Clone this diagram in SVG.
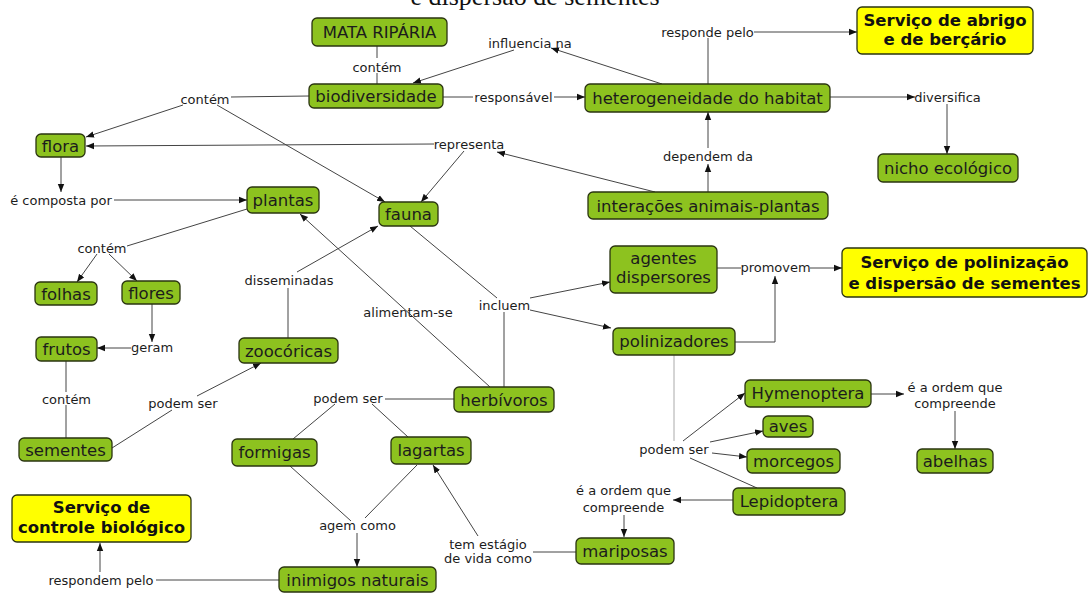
<svg xmlns="http://www.w3.org/2000/svg" width="1088" height="593" viewBox="0 0 1088 593">
<style>
.n rect{fill:#8dc21f;stroke:#2a3410;stroke-width:1.3}
.y rect{fill:#ffff00;stroke:#2a3410;stroke-width:1.3}
.n text{font-family:"DejaVu Sans",Verdana,sans-serif;font-size:16.5px;fill:#1c1c1c;text-anchor:middle}
.y text{font-family:"DejaVu Sans",Verdana,sans-serif;font-size:16.5px;font-weight:bold;fill:#111;text-anchor:middle}
.l text{font-family:"DejaVu Sans",Verdana,sans-serif;font-size:13px;fill:#1c1c1c;text-anchor:middle}
#connectors line,#connectors polyline{stroke:#444;stroke-width:1;fill:none}
#connectors .a{marker-end:url(#ah)}
#connectors .g{stroke:#aaa}
.title{font-family:"Liberation Serif",serif;font-size:26px;fill:#111;text-anchor:middle}
</style>
<defs>
<marker id="ah" viewBox="0 0 10 10" refX="10" refY="5" markerWidth="8" markerHeight="8" orient="auto" markerUnits="userSpaceOnUse">
<path d="M0,1 L10,5 L0,9 z" fill="#111"/>
</marker>
</defs>
<rect width="1088" height="593" fill="#fff"/>
<text class="title" x="535" y="5">e dispersão de sementes</text>

<g id="connectors">
<line x1="377" y1="46" x2="377" y2="58"/>
<line x1="377" y1="73" x2="377" y2="84"/>
<line x1="309" y1="96" x2="231" y2="97"/>
<line class="a" x1="183" y1="105" x2="86" y2="137"/>
<line class="a" x1="217" y1="105" x2="385" y2="202"/>
<line class="a" x1="662" y1="84" x2="551" y2="48"/>
<line class="a" x1="514" y1="50" x2="413" y2="83"/>
<line x1="443" y1="97" x2="473" y2="97"/>
<line class="a" x1="554" y1="97" x2="585" y2="97"/>
<line x1="708" y1="84" x2="708" y2="38"/>
<line class="a" x1="754" y1="32" x2="857" y2="32"/>
<line class="a" x1="830" y1="97" x2="915" y2="97"/>
<line class="a" x1="947" y1="104" x2="947" y2="154"/>
<line class="a" x1="655" y1="192" x2="497" y2="152"/>
<line class="a" x1="434" y1="144" x2="86" y2="146"/>
<line class="a" x1="464" y1="151" x2="421" y2="202"/>
<line class="a" x1="708" y1="192" x2="708" y2="164"/>
<line class="a" x1="708" y1="148" x2="708" y2="112"/>
<line class="a" x1="61" y1="157" x2="61" y2="192"/>
<line class="a" x1="114" y1="200" x2="247" y2="200"/>
<line x1="247" y1="209" x2="127" y2="246"/>
<line class="a" x1="97" y1="254" x2="77" y2="282"/>
<line class="a" x1="109" y1="254" x2="137" y2="281"/>
<line class="a" x1="152" y1="304" x2="152" y2="342"/>
<line class="a" x1="131" y1="348" x2="97" y2="348"/>
<line x1="66" y1="361" x2="66" y2="392"/>
<line x1="66" y1="405" x2="66" y2="438"/>
<line x1="112" y1="448" x2="172" y2="410"/>
<line class="a" x1="197" y1="396" x2="261" y2="363"/>
<line x1="288" y1="338" x2="288" y2="288"/>
<line class="a" x1="297" y1="272" x2="378" y2="226"/>
<line class="a" x1="490" y1="387" x2="300" y2="214"/>
<line x1="410" y1="226" x2="497" y2="298"/>
<line x1="504" y1="387" x2="504" y2="312"/>
<line class="a" x1="530" y1="298" x2="610" y2="282"/>
<line class="a" x1="530" y1="310" x2="611" y2="328"/>
<line x1="717" y1="268" x2="741" y2="268"/>
<line class="a" x1="810" y1="268" x2="842" y2="268"/>
<polyline class="a" points="735,342 775,342 775,276"/>
<line class="g" x1="674" y1="355" x2="674" y2="441"/>
<line class="a" x1="683" y1="441" x2="745" y2="393"/>
<line class="a" x1="710" y1="442" x2="763" y2="431"/>
<line class="a" x1="712" y1="453" x2="747" y2="457"/>
<line x1="690" y1="458" x2="757" y2="488"/>
<line class="a" x1="871" y1="394" x2="904" y2="394"/>
<line class="a" x1="955" y1="411" x2="955" y2="449"/>
<line class="a" x1="733" y1="500" x2="673" y2="500"/>
<line class="a" x1="624" y1="515" x2="624" y2="537"/>
<line x1="576" y1="552" x2="533" y2="552"/>
<line class="a" x1="478" y1="536" x2="433" y2="465"/>
<line x1="454" y1="399" x2="385" y2="399"/>
<line x1="335" y1="404" x2="293" y2="439"/>
<line x1="372" y1="404" x2="408" y2="437"/>
<line x1="290" y1="466" x2="351" y2="521"/>
<line x1="417" y1="465" x2="365" y2="518"/>
<line class="a" x1="357" y1="533" x2="357" y2="567"/>
<line x1="279" y1="580" x2="156" y2="580"/>
<line class="a" x1="100" y1="572" x2="100" y2="543"/>
</g>

<g id="mata-riparia" class="n"><rect x="312" y="18" width="135" height="28" rx="5"/><text x="379.5" y="38">MATA RIPÁRIA</text></g>
<g id="biodiversidade" class="n"><rect x="309" y="84" width="134" height="24" rx="5"/><text x="376" y="102">biodiversidade</text></g>
<g id="heterogeneidade" class="n"><rect x="585" y="84" width="245" height="28" rx="5"/><text x="707.5" y="104">heterogeneidade do habitat</text></g>
<g id="servico-abrigo" class="y"><rect x="857" y="7" width="176" height="47" rx="5"/><text x="945" y="26">Serviço de abrigo</text><text x="945" y="45">e de berçário</text></g>
<g id="flora" class="n"><rect x="36" y="134" width="49" height="23" rx="5"/><text x="60.5" y="152">flora</text></g>
<g id="nicho" class="n"><rect x="878" y="154" width="140" height="28" rx="5"/><text x="948" y="174">nicho ecológico</text></g>
<g id="plantas" class="n"><rect x="247" y="187" width="72" height="26" rx="5"/><text x="283" y="206">plantas</text></g>
<g id="fauna" class="n"><rect x="379" y="202" width="59" height="24" rx="5"/><text x="408.5" y="220">fauna</text></g>
<g id="interacoes" class="n"><rect x="588" y="192" width="240" height="27" rx="5"/><text x="708" y="211.5">interações animais-plantas</text></g>
<g id="agentes" class="n"><rect x="610" y="246" width="107" height="47" rx="5"/><text x="663.5" y="264">agentes</text><text x="663.5" y="283">dispersores</text></g>
<g id="polinizadores" class="n"><rect x="613" y="328" width="122" height="27" rx="5"/><text x="674" y="347">polinizadores</text></g>
<g id="servico-polinizacao" class="y"><rect x="842" y="248" width="245" height="49" rx="5"/><text x="964.5" y="268">Serviço de polinização</text><text x="964.5" y="289">e dispersão de sementes</text></g>
<g id="folhas" class="n"><rect x="35" y="282" width="62" height="23" rx="5"/><text x="66" y="300">folhas</text></g>
<g id="flores" class="n"><rect x="122" y="281" width="58" height="23" rx="5"/><text x="151" y="299">flores</text></g>
<g id="frutos" class="n"><rect x="36" y="337" width="61" height="24" rx="5"/><text x="66.5" y="355">frutos</text></g>
<g id="zoocoricas" class="n"><rect x="239" y="338" width="99" height="25" rx="5"/><text x="288.5" y="357">zoocóricas</text></g>
<g id="herbivoros" class="n"><rect x="454" y="387" width="100" height="25" rx="5"/><text x="504" y="406">herbívoros</text></g>
<g id="sementes" class="n"><rect x="19" y="438" width="93" height="23" rx="5"/><text x="65.5" y="456">sementes</text></g>
<g id="formigas" class="n"><rect x="232" y="439" width="85" height="27" rx="5"/><text x="274.5" y="458">formigas</text></g>
<g id="lagartas" class="n"><rect x="391" y="437" width="80" height="27" rx="5"/><text x="431" y="456">lagartas</text></g>
<g id="servico-controle" class="y"><rect x="12" y="495" width="179" height="47" rx="5"/><text x="101.5" y="513">Serviço de</text><text x="101.5" y="533">controle biológico</text></g>
<g id="inimigos" class="n"><rect x="279" y="567" width="157" height="25" rx="5"/><text x="357.5" y="586">inimigos naturais</text></g>
<g id="mariposas" class="n"><rect x="576" y="538" width="98" height="26" rx="5"/><text x="625" y="557">mariposas</text></g>
<g id="hymenoptera" class="n"><rect x="745" y="380" width="126" height="27" rx="5"/><text x="808" y="399">Hymenoptera</text></g>
<g id="aves" class="n"><rect x="763" y="416" width="50" height="21" rx="5"/><text x="788" y="432">aves</text></g>
<g id="morcegos" class="n"><rect x="747" y="449" width="93" height="24" rx="5"/><text x="793.5" y="467">morcegos</text></g>
<g id="lepidoptera" class="n"><rect x="733" y="488" width="112" height="27" rx="5"/><text x="789" y="507">Lepidoptera</text></g>
<g id="abelhas" class="n"><rect x="917" y="449" width="76" height="24" rx="5"/><text x="955" y="467">abelhas</text></g>

<g id="lbl-contem-1" class="l"><text x="377" y="71.5">contém</text></g>
<g id="lbl-contem-2" class="l"><text x="205" y="103.5">contém</text></g>
<g id="lbl-influencia" class="l"><text x="530" y="47.5">influencia na</text></g>
<g id="lbl-responsavel" class="l"><text x="513.5" y="101.5">responsável</text></g>
<g id="lbl-responde" class="l"><text x="707.5" y="36.5">responde pelo</text></g>
<g id="lbl-diversifica" class="l"><text x="947.5" y="101.5">diversifica</text></g>
<g id="lbl-representa" class="l"><text x="469" y="148.5">representa</text></g>
<g id="lbl-dependem" class="l"><text x="708" y="160.5">dependem da</text></g>
<g id="lbl-composta" class="l"><text x="61" y="204.5">é composta por</text></g>
<g id="lbl-contem-3" class="l"><text x="102" y="252.5">contém</text></g>
<g id="lbl-geram" class="l"><text x="152" y="351.5">geram</text></g>
<g id="lbl-disseminadas" class="l"><text x="289" y="284.5">disseminadas</text></g>
<g id="lbl-alimentam" class="l"><text x="408" y="316.5">alimentam-se</text></g>
<g id="lbl-incluem" class="l"><text x="504.5" y="309.5">incluem</text></g>
<g id="lbl-promovem" class="l"><text x="775.5" y="271.5">promovem</text></g>
<g id="lbl-contem-4" class="l"><text x="66.5" y="403.5">contém</text></g>
<g id="lbl-podem-1" class="l"><text x="183" y="407.5">podem ser</text></g>
<g id="lbl-podem-2" class="l"><text x="348" y="402.5">podem ser</text></g>
<g id="lbl-podem-3" class="l"><text x="674" y="453.5">podem ser</text></g>
<g id="lbl-ordem-1" class="l"><text x="955" y="391.5">é a ordem que</text><text x="955" y="407.5">compreende</text></g>
<g id="lbl-ordem-2" class="l"><text x="623.5" y="494.5">é a ordem que</text><text x="623.5" y="511.5">compreende</text></g>
<g id="lbl-estagio" class="l"><text x="488" y="548.5">tem estágio</text><text x="488" y="562.5">de vida como</text></g>
<g id="lbl-agem" class="l"><text x="357.5" y="529.5">agem como</text></g>
<g id="lbl-respondem" class="l"><text x="101" y="584.5">respondem pelo</text></g>
</svg>
